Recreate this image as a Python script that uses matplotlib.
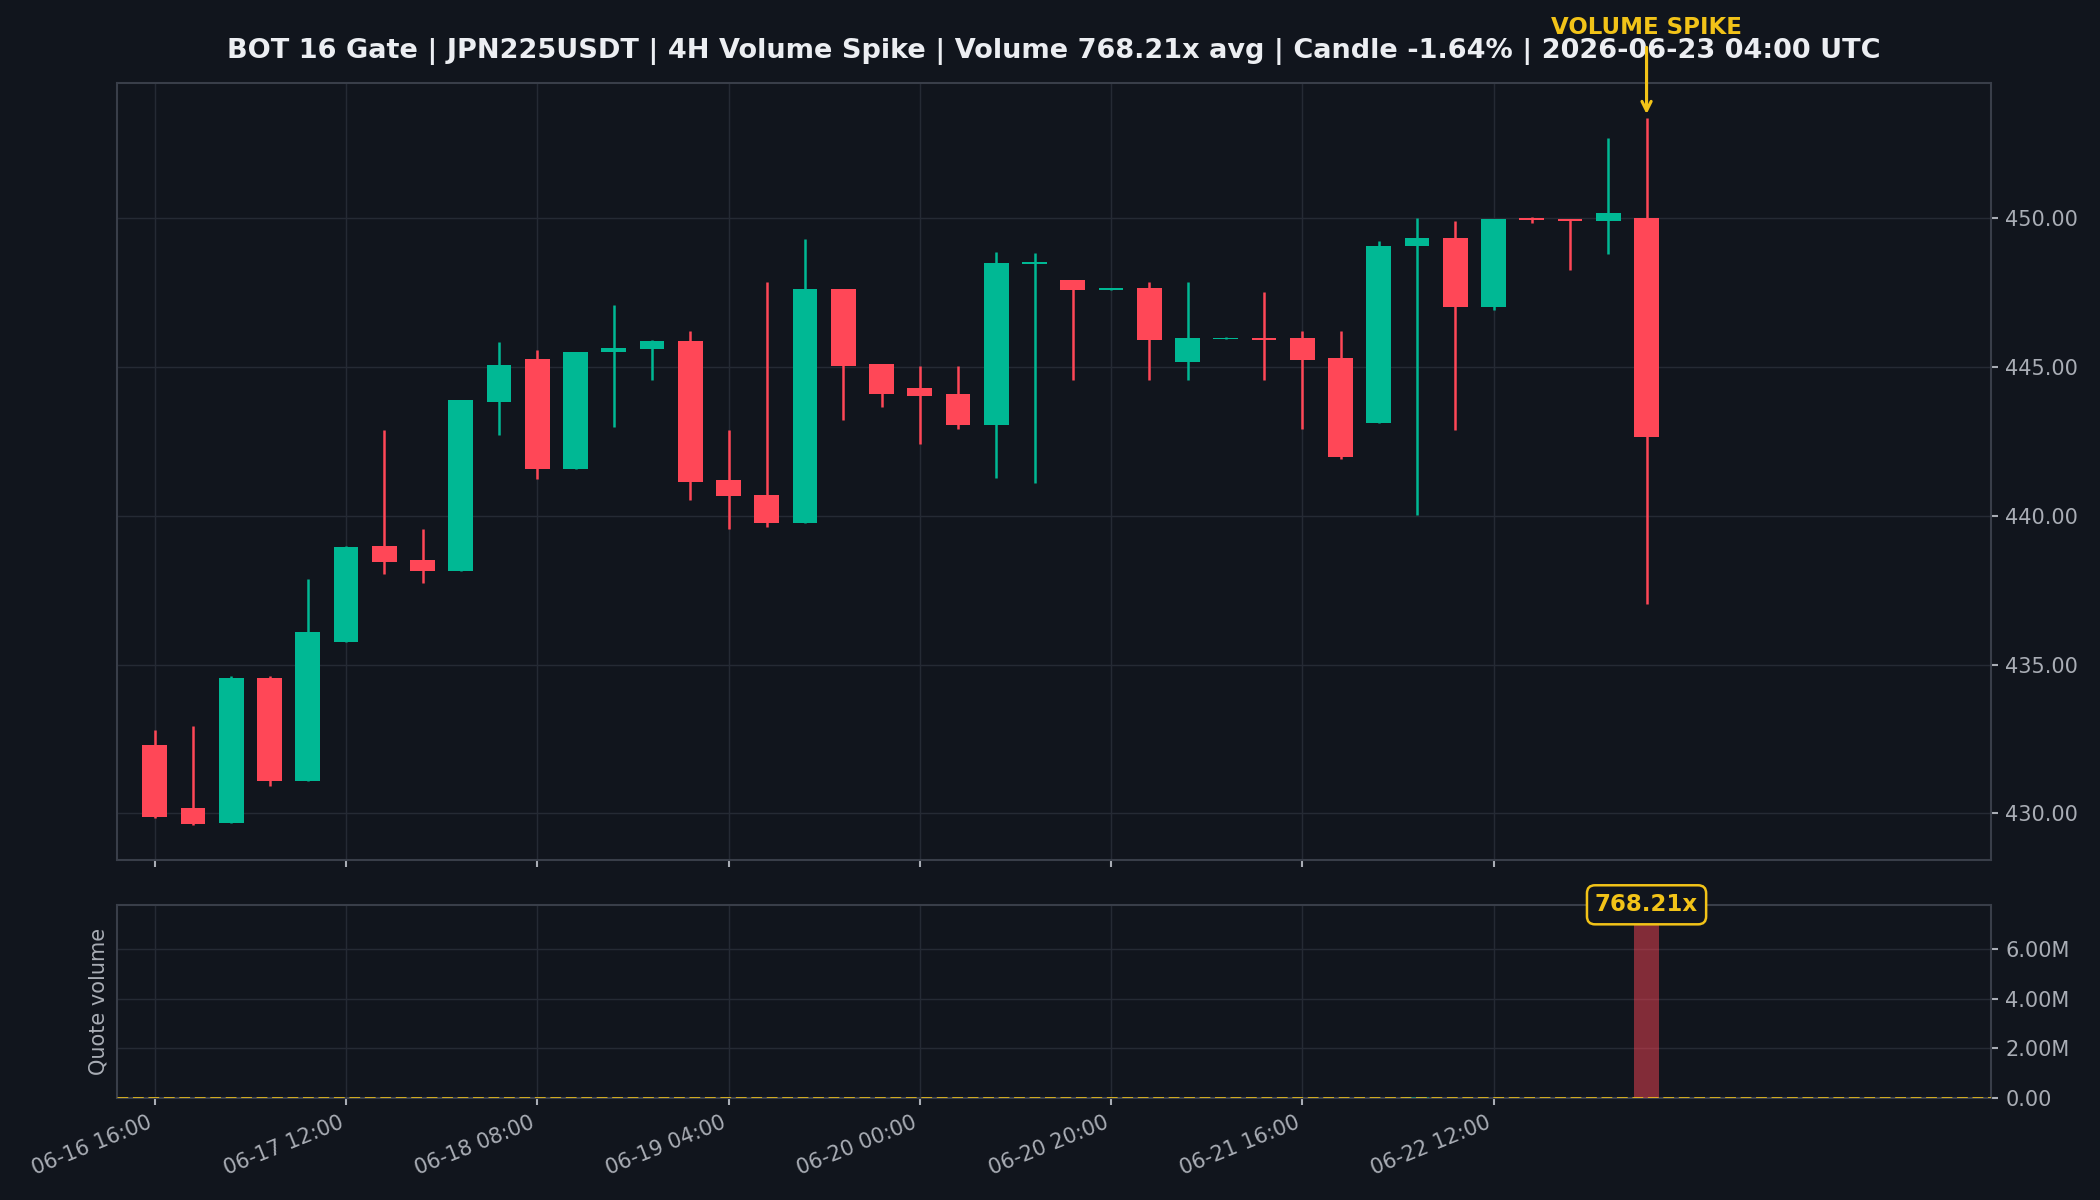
import numpy as np
import matplotlib
matplotlib.use('Agg')
import matplotlib.pyplot as plt
from matplotlib.ticker import FuncFormatter, MultipleLocator

# 4H candles, 06-16 16:00 -> 06-23 04:00 UTC
opens  = [432.31, 430.18, 429.69, 434.56, 431.08, 435.76, 438.99, 438.52, 438.16, 443.83,
          445.28, 441.56, 445.51, 445.61, 445.86, 441.21, 440.70, 439.75, 447.62, 445.09,
          444.28, 444.08, 443.06, 448.45, 447.92, 447.60, 447.65, 445.18, 445.93, 445.96,
          445.96, 445.29, 443.12, 449.05, 449.32, 447.03, 450.02, 449.99, 449.90, 450.02]
highs  = [432.81, 432.92, 434.60, 434.60, 437.88, 438.99, 442.89, 439.56, 443.90, 445.83,
          445.57, 445.50, 447.08, 445.90, 446.20, 442.89, 447.85, 449.30, 447.62, 445.09,
          445.03, 445.03, 448.86, 448.82, 447.92, 447.66, 447.85, 447.85, 446.00, 447.53,
          446.20, 446.20, 449.22, 450.00, 449.92, 449.98, 450.04, 449.99, 452.70, 453.36]
lows   = [429.86, 429.60, 429.69, 430.91, 431.08, 435.76, 438.04, 437.75, 438.16, 442.70,
          441.24, 441.56, 442.98, 444.55, 440.53, 439.55, 439.61, 439.75, 443.22, 443.67,
          442.40, 442.91, 441.26, 441.10, 444.56, 447.58, 444.56, 444.56, 445.93, 444.56,
          442.91, 441.92, 443.12, 440.02, 442.88, 446.91, 449.84, 448.26, 448.80, 437.03]
closes = [429.88, 429.63, 434.56, 431.08, 436.10, 438.96, 438.46, 438.16, 443.90, 445.06,
          441.56, 445.50, 445.64, 445.86, 441.15, 440.66, 439.75, 447.62, 445.04, 444.09,
          444.02, 443.06, 448.49, 448.52, 447.60, 447.64, 445.92, 445.96, 445.96, 445.91,
          445.23, 441.97, 449.08, 449.32, 447.03, 449.98, 449.94, 449.90, 450.16, 442.64]
quote_vol = [8200, 6400, 11800, 9300, 10500, 7600, 5200, 4800, 12900, 6100,
             9800, 8700, 5400, 3900, 11200, 6800, 10400, 13600, 7900, 5600,
             4700, 6200, 12300, 11900, 5100, 2800, 7400, 6600, 3100, 4500,
             6900, 9600, 10800, 58000, 8400, 7700, 3600, 4200, 6300, 7200000]
tick_idx = [0, 5, 10, 15, 20, 25, 30, 35]
tick_labels = ['06-16 16:00', '06-17 12:00', '06-18 08:00', '06-19 04:00',
               '06-20 00:00', '06-20 20:00', '06-21 16:00', '06-22 12:00']

title = 'BOT 16 Gate | JPN225USDT | 4H Volume Spike | Volume 768.21x avg | Candle -1.64% | 2026-06-23 04:00 UTC'

# colours
BG = '#11151d'
UP = '#00b894'
DOWN = '#ff4757'
GOLD = '#f2c318'
GRID = '#252a34'
SPINE = '#393e49'
TXT = '#a9adb5'

plt.rcParams['font.family'] = ['DejaVu Sans']

fig = plt.figure(figsize=(14, 8), dpi=150, facecolor=BG)
ax = fig.add_axes([0.0555, 0.283, 0.8925, 0.648])
axv = fig.add_axes([0.0555, 0.085, 0.8925, 0.161], sharex=ax)

x = np.arange(len(opens))
o = np.array(opens); c = np.array(closes)
h = np.array(highs); l = np.array(lows)
up = c >= o
cols = np.where(up, UP, DOWN)

# wicks + bodies
ax.vlines(x, l, h, colors=cols, linewidth=1.2, zorder=3)
body = np.maximum(np.abs(c - o), 0.06)
ax.bar(x, body, bottom=np.minimum(o, c), width=0.65, color=cols, zorder=4)

# volume
axv.bar(x, quote_vol, width=0.65, color=cols, alpha=0.48, zorder=3)
avg_vol = np.mean(quote_vol[:-1])
axv.axhline(avg_vol, color=GOLD, linestyle='--', linewidth=1.4, alpha=0.85, zorder=4)

for a in (ax, axv):
    a.set_facecolor(BG)
    a.grid(True, color=GRID, linewidth=0.7)
    a.set_axisbelow(True)
    for s in a.spines.values():
        s.set_color(SPINE)
        s.set_linewidth(1.0)
    a.yaxis.tick_right()
    a.tick_params(colors=TXT, labelsize=10, length=3.5, width=1)

ax.set_xlim(-1, 48)
ax.set_ylim(428.42, 454.55)
ax.yaxis.set_major_locator(MultipleLocator(5))
ax.yaxis.set_major_formatter(FuncFormatter(lambda v, p: f'{v:.2f}'))
ax.tick_params(axis='x', labelbottom=False)

axv.set_ylim(0, 7.78e6)
axv.set_yticks([0, 2e6, 4e6, 6e6])
axv.yaxis.set_major_formatter(FuncFormatter(lambda v, p: '0.00' if v == 0 else f'{v/1e6:.2f}M'))
axv.set_xticks(tick_idx)
axv.set_xticklabels(tick_labels, rotation=22, ha='right')
axv.set_ylabel('Quote volume', color=TXT, fontsize=10)

ax.set_title(title, color='#eceef2', fontsize=13, fontweight='bold', pad=12)

# spike markers
last = len(opens) - 1
ax.annotate('VOLUME SPIKE', xy=(last, highs[-1]), xytext=(0, 38), textcoords='offset points',
            ha='center', va='bottom', color=GOLD, fontsize=11, fontweight='bold',
            arrowprops=dict(arrowstyle='->', color=GOLD, lw=1.5), annotation_clip=False, zorder=6)
axv.text(last, 1.0, '768.21x', transform=axv.get_xaxis_transform(), ha='center', va='center',
         color=GOLD, fontsize=11, fontweight='bold', zorder=6, clip_on=False,
         bbox=dict(boxstyle='round,pad=0.35', facecolor=BG, edgecolor=GOLD, linewidth=1.2))

fig.savefig('out.png', dpi=150, facecolor=BG)
